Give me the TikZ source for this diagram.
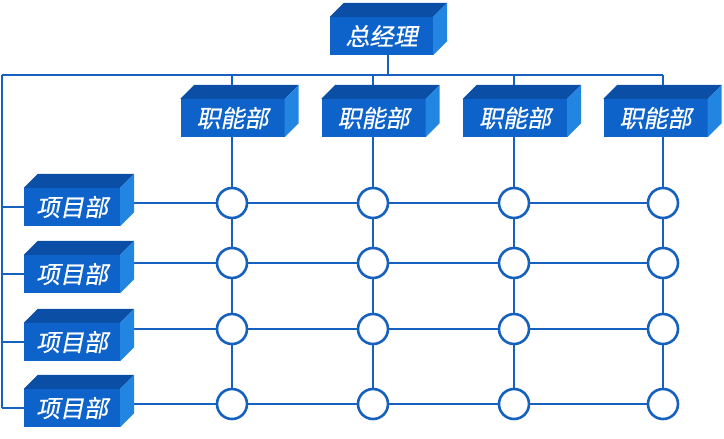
\documentclass[tikz,border=0pt]{standalone}
\usepackage{fontspec}
\newfontfamily\cjk[FakeSlant=0.2,FakeBold=0.6]{Noto Sans CJK SC}
\pgfdeclarelayer{background}
\pgfsetlayers{background,main}
\definecolor{frontblue}{HTML}{0D63C9}
\definecolor{topblue}{HTML}{0A4EA6}
\definecolor{sideblue}{HTML}{2385E2}
\definecolor{lineblue}{HTML}{1660BE}
\tikzset{
  ln/.style={draw=lineblue, line width=2.6pt},
  box/.style={fill=frontblue, text=white, font=\cjk\fontsize{24}{24}\selectfont,
    minimum height=38pt, inner sep=0pt},
  topface/.style={fill=topblue},
  sideface/.style={fill=sideblue},
  junc/.style={circle, draw=lineblue, line width=2.6pt, fill=white,
    minimum size=30pt, inner sep=0pt},
}
\newcommand\cubefaces[1]{%
  \fill[topface] (#1.north west) -- (#1.north east) -- ++(14,-14)
    -- ([shift={(14,-14)}]#1.north west) -- cycle;
  \fill[sideface] (#1.north east) -- ++(14,-14)
    -- ([shift={(14,-14)}]#1.south east) -- (#1.south east) -- cycle;
}
\begin{document}
\begin{tikzpicture}[x=1pt,y=-1pt]
\useasboundingbox (0,0) rectangle (724,439);
% top box
\node[box, minimum width=103pt] (gm) at (381.5,36) {总经理};
\cubefaces{gm}
% department boxes
\node[box, minimum width=104pt] (d1) at (232.5,118) {职能部};
\node[box, minimum width=104pt] (d2) at (373.5,118) {职能部};
\node[box, minimum width=104pt] (d3) at (515,118) {职能部};
\node[box, minimum width=104pt] (d4) at (655.5,118) {职能部};
\foreach \d in {d1,d2,d3,d4} {\cubefaces{\d}}
% project boxes
\node[box, minimum width=96pt] (p1) at (72,207) {项目部};
\node[box, minimum width=96pt] (p2) at (72,274) {项目部};
\node[box, minimum width=96pt] (p3) at (72,342) {项目部};
\node[box, minimum width=96pt] (p4) at (72,408) {项目部};
\foreach \p in {p1,p2,p3,p4} {\cubefaces{\p}}
% junctions
\foreach \r/\y in {1/203,2/263,3/329,4/404} {
  \foreach \c/\x in {1/232,2/373,3/514,4/663} {
    \node[junc] (c\r\c) at (\x,\y) {};
  }
}
% coordinates of the bus
\coordinate (bus) at (388,75);
\coordinate (busL) at (2,75);
\coordinate (busR) at (663,75);
\begin{pgfonlayer}{background}
  \draw[ln] (gm.south -| bus) -- (bus);
  \draw[ln] (busL) -- (busR);
  \draw[ln] (busL) -- (busL |- p4.west);
  \foreach \p in {p1,p2,p3,p4} {
    \draw[ln] (busL |- \p.west) -- (\p.west);
  }
  \foreach \c in {1,2,3,4} {
    \draw[ln] (c1\c |- bus) -- (c4\c);
  }
  \foreach \r/\p in {1/p1,2/p2,3/p3,4/p4} {
    \draw[ln] (\p.east |- c\r1) -- (c\r4);
  }
\end{pgfonlayer}
\end{tikzpicture}
\end{document}
